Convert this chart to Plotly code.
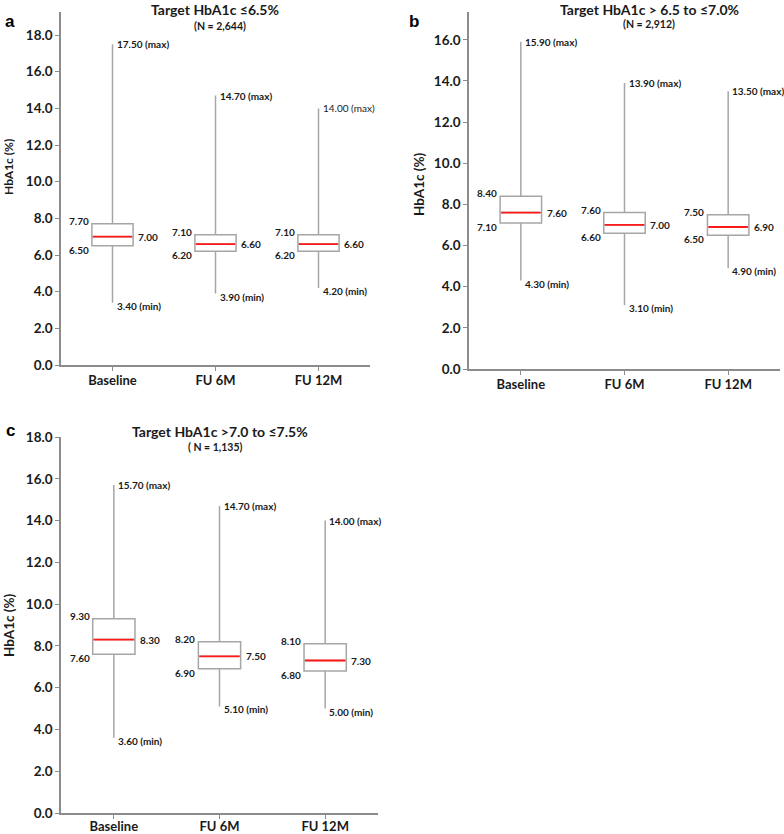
import plotly.graph_objects as go

categories = ["Baseline", "FU 6M", "FU 12M"]

# Panel a: Target HbA1c <=6.5%
a_min = [3.40, 3.90, 4.20]
a_q1 = [6.50, 6.20, 6.20]
a_med = [7.00, 6.60, 6.60]
a_q3 = [7.70, 7.10, 7.10]
a_max = [17.50, 14.70, 14.00]

# Panel b: Target HbA1c >6.5 to <=7.0%
b_min = [4.30, 3.10, 4.90]
b_q1 = [7.10, 6.60, 6.50]
b_med = [7.60, 7.00, 6.90]
b_q3 = [8.40, 7.60, 7.50]
b_max = [15.90, 13.90, 13.50]

# Panel c: Target HbA1c >7.0 to <=7.5%
c_min = [3.60, 5.10, 5.00]
c_q1 = [7.60, 6.90, 6.80]
c_med = [8.30, 7.50, 7.30]
c_q3 = [9.30, 8.20, 8.10]
c_max = [15.70, 14.70, 14.00]

yticks = [0, 2, 4, 6, 8, 10, 12, 14, 16, 18]

W, H = 784, 834
FONT = "Lato"
GREY = "#a6a6a6"
AXC = "#8c8c8c"
BW = 0.4
TXT = "#1a1a1a"

panels = [
    dict(key="", mn=a_min, q1=a_q1, md=a_med, q3=a_q3, mx=a_max,
         dom_x=[61 / W, 370 / W], dom_y=[1 - 365 / H, 1 - 12 / H], yr=[0, 19.26],
         title="Target HbA1c ≤6.5%", sub="(N = 2,644)",
         tx=215, ty=9, sx=220, sy=26, letter="a", lx=10, ly=22, bold_max=[True, True, False],
         ytx=9, yty=167, yts=12, xstand=-1),
    dict(key="2", mn=b_min, q1=b_q1, md=b_med, q3=b_q3, mx=b_max,
         dom_x=[469 / W, 780 / W], dom_y=[1 - 369 / H, 1 - 12 / H], yr=[0, 17.35],
         title="Target HbA1c > 6.5 to ≤7.0%", sub="(N = 2,912)",
         tx=649, ty=9, sx=649, sy=24, letter="b", lx=414, ly=22, bold_max=[True, True, True],
         ytx=419, yty=184, yts=13.5, xstand=-1),
    dict(key="3", mn=c_min, q1=c_q1, md=c_med, q3=c_q3, mx=c_max,
         dom_x=[61 / W, 378 / W], dom_y=[1 - 813 / H, 1 - 437 / H], yr=[0, 18.0],
         title="Target HbA1c >7.0 to ≤7.5%", sub="( N = 1,135)",
         tx=220, ty=431, sx=215, sy=447, letter="c", lx=10, ly=430, bold_max=[True, True, True],
         ytx=9, yty=625, yts=13.5, xstand=-3),
]

fig = go.Figure()
annotations = []
layout = {}

def b(s):
    return "<b>" + s + "</b>"

for p in panels:
    xa = "x" + p["key"]
    ya = "y" + p["key"]
    xs = list(range(len(categories)))
    fig.add_trace(go.Box(
        x=xs, q1=p["q1"], median=p["md"], q3=p["q3"],
        lowerfence=p["mn"], upperfence=p["mx"],
        boxpoints=False, whiskerwidth=0, width=BW,
        fillcolor="white", line=dict(color=GREY, width=1.5),
        xaxis=xa, yaxis=ya, showlegend=False, hoverinfo="skip",
    ))
    mx_x, mx_y = [], []
    for i in xs:
        mx_x += [i - BW / 2 + 0.01, i + BW / 2 - 0.01, None]
        mx_y += [p["md"][i], p["md"][i], None]
    fig.add_trace(go.Scatter(x=mx_x, y=mx_y, mode="lines",
                             line=dict(color="#ff1a1a", width=1.8),
                             xaxis=xa, yaxis=ya, showlegend=False, hoverinfo="skip"))
    lf = dict(family=FONT, size=10, color=TXT)
    for i in xs:
        common = dict(xref=xa, yref=ya, showarrow=False, font=lf)
        annotations.append(dict(x=i - BW / 2, y=p["q3"][i], text=b(f"{p['q3'][i]:.2f}"),
                                xanchor="right", yanchor="middle", xshift=-1, yshift=3, **common))
        annotations.append(dict(x=i - BW / 2, y=p["q1"][i], text=b(f"{p['q1'][i]:.2f}"),
                                xanchor="right", yanchor="middle", xshift=-1, yshift=-4, **common))
        annotations.append(dict(x=i + BW / 2, y=p["md"][i], text=b(f"{p['md'][i]:.2f}"),
                                xanchor="left", yanchor="middle", xshift=3, yshift=0, **common))
        mt = f"{p['mx'][i]:.2f} (max)"
        annotations.append(dict(x=i, y=p["mx"][i], text=b(mt) if p["bold_max"][i] else mt,
                                xanchor="left", yanchor="middle", xshift=2, yshift=0, **common))
        annotations.append(dict(x=i, y=p["mn"][i], text=b(f"{p['mn'][i]:.2f} (min)"),
                                xanchor="left", yanchor="middle", xshift=2, yshift=-3, **common))
    # titles
    annotations.append(dict(xref="paper", yref="paper", x=p["tx"] / W, y=1 - p["ty"] / H,
                            text=b(p["title"]), showarrow=False, xanchor="center", yanchor="middle",
                            font=dict(family=FONT, size=14, color=TXT)))
    annotations.append(dict(xref="paper", yref="paper", x=p["sx"] / W, y=1 - p["sy"] / H,
                            text=b(p["sub"]), showarrow=False, xanchor="center", yanchor="middle",
                            font=dict(family=FONT, size=10.5, color=TXT)))
    annotations.append(dict(xref="paper", yref="paper", x=p["lx"] / W, y=1 - p["ly"] / H,
                            text=b(p["letter"]), showarrow=False, xanchor="center", yanchor="middle",
                            font=dict(family="Liberation Sans", size=17, color="#000000")))
    annotations.append(dict(xref="paper", yref="paper", x=p["ytx"] / W, y=1 - p["yty"] / H,
                            text=b("HbA1c (%)"), showarrow=False, textangle=-90,
                            xanchor="center", yanchor="middle",
                            font=dict(family=FONT, size=p["yts"], color=TXT)))
    xname = "xaxis" + p["key"]
    yname = "yaxis" + p["key"]
    layout[xname] = dict(domain=p["dom_x"], anchor=ya, range=[-0.5, 2.5], automargin=False,
                         tickvals=xs, ticktext=[b(c) for c in categories],
                         showgrid=False, zeroline=False, showline=True, linecolor=AXC, linewidth=1.5,
                         ticks="outside", ticklen=4, tickcolor=AXC, tickwidth=1,
                         ticklabelstandoff=p["xstand"],
                         tickfont=dict(family=FONT, size=13, color=TXT), fixedrange=True)
    layout[yname] = dict(domain=p["dom_y"], anchor=xa, range=p["yr"], automargin=False,
                         tickvals=yticks, ticktext=[b(f"{v:.1f}") for v in yticks],
                         showgrid=False, zeroline=False, showline=True, linecolor=AXC, linewidth=1.5,
                         ticks="outside", ticklen=4, tickcolor=AXC, tickwidth=1,
                         tickfont=dict(family=FONT, size=13.5, color=TXT), fixedrange=True)

fig.update_layout(width=W, height=H, margin=dict(l=0, r=0, t=0, b=0),
                  paper_bgcolor="white", plot_bgcolor="white",
                  annotations=annotations, **layout)

fig.write_html("out.html", config={"displayModeBar": False},
               post_script="document.body.style.margin='0';document.body.style.overflow='hidden';")
